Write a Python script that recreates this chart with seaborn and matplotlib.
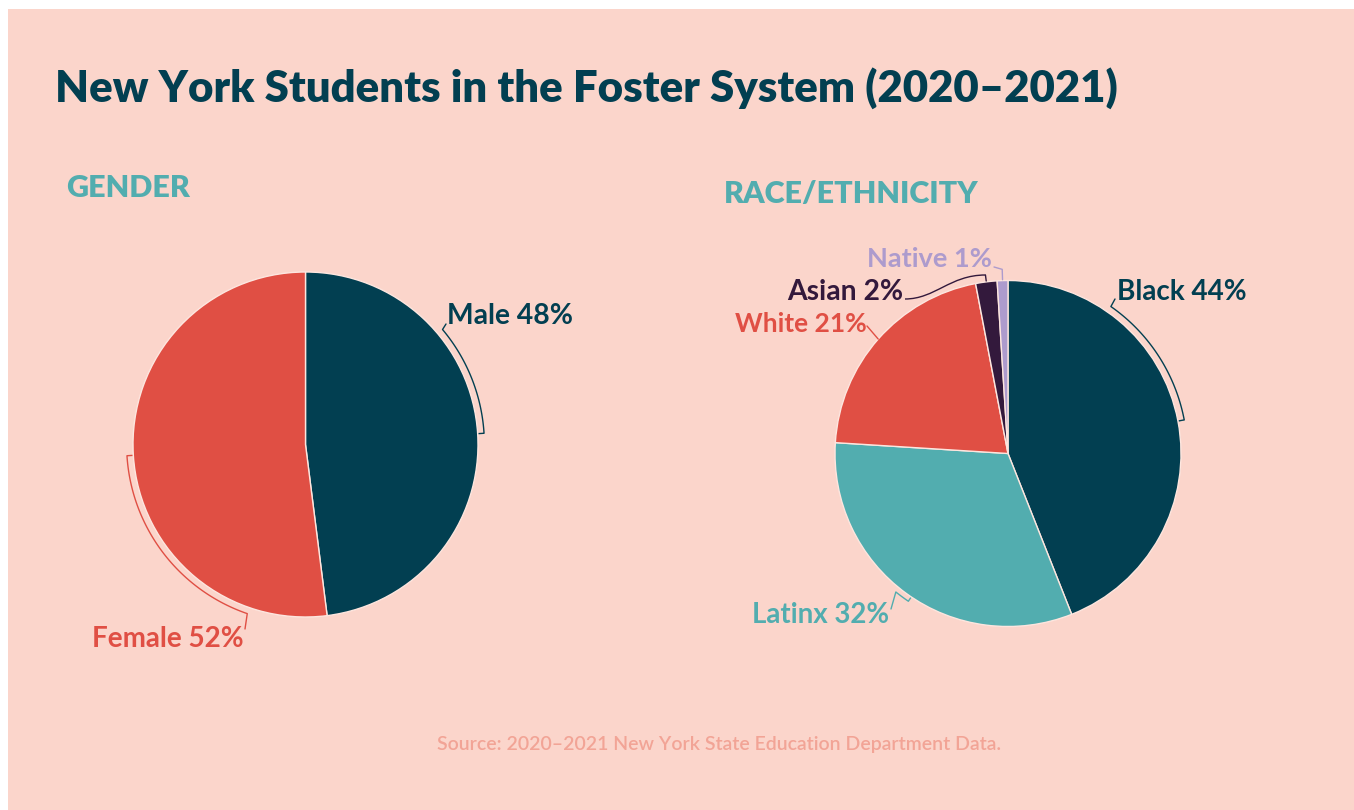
import numpy as np
import pandas as pd
import matplotlib
matplotlib.use("Agg")
import matplotlib.pyplot as plt
import seaborn as sns
from matplotlib.path import Path
from matplotlib.patches import PathPatch, Rectangle

# ---------------- data ----------------
title = "New York Students in the Foster System (2020–2021)"
source = "Source: 2020–2021 New York State Education Department Data."

gender_title = "GENDER"
gender_labels = ["Male", "Female"]
gender_values = [48, 52]

race_title = "RACE/ETHNICITY"
race_labels = ["Black", "Latinx", "White", "Asian", "Native"]
race_values = [44, 32, 21, 2, 1]

# ---------------- style ----------------
DARK = "#023f51"
RED = "#e04f44"
TEAL = "#52adaf"
PURPLE = "#33193c"
LAV = "#ad9bcd"
BG = "#fbd5cb"
SRC = "#f2a496"
EDGE = "#fde6df"

gender_colors = [DARK, RED]
race_colors = [DARK, TEAL, RED, PURPLE, LAV]

W, H = 1354, 810
sns.set_theme(style="white")
plt.rcParams["font.family"] = ["Lato", "DejaVu Sans"]

fig = plt.figure(figsize=(W / 100, H / 100), dpi=100, facecolor="white")
fig.patches.append(Rectangle((8 / W, 0), 1, 1 - 9 / H, transform=fig.transFigure,
                             facecolor=BG, edgecolor="none", zorder=-10))


def pie_axes(cx, cy, R):
    half = 1.25 * R
    ax = fig.add_axes([(cx - half) / W, (H - cy - half) / H, 2 * half / W, 2 * half / H])
    ax.set_facecolor("none")
    ax.set_zorder(5)
    return ax


def draw_pie(ax, values, colors):
    ax.pie(values, colors=colors, startangle=90, counterclock=False,
           wedgeprops=dict(edgecolor=EDGE, linewidth=1.0))
    total = float(sum(values))
    cum = np.concatenate([[0], np.cumsum(values)]) / total
    mids = 90 - 360 * (cum[:-1] + cum[1:]) / 2
    return mids


def polar(a, r):
    t = np.deg2rad(a)
    return r * np.cos(t), r * np.sin(t)


def bracket(ax, a_tick, a_end, end_pt, color, r_arc=1.037, r_in=1.005):
    x0, y0 = polar(a_tick, r_in)
    x1, y1 = polar(a_tick, r_arc)
    ax.plot([x0, x1], [y0, y1], color=color, lw=1.0, solid_capstyle="butt", clip_on=False)
    aa = np.linspace(a_tick, a_end, 80)
    xs, ys = polar(aa, r_arc)
    xs = list(xs) + [end_pt[0]]
    ys = list(ys) + [end_pt[1]]
    ax.plot(xs, ys, color=color, lw=1.0, clip_on=False)


# ---------------- gender pie ----------------
gcx, gcy, gR = 305.5, 444.5, 172.5
axg = pie_axes(gcx, gcy, gR)
gmid = draw_pie(axg, gender_values, gender_colors)


def gpx(x, y):
    return ((x - gcx) / gR, (gcy - y) / gR)


bracket(axg, gmid[0], 40, gpx(446, 324), gender_colors[0])
bracket(axg, gmid[1] + 360, 251, gpx(245, 629), gender_colors[1])

# ---------------- race pie ----------------
rcx, rcy, rR = 1008, 453.5, 173
axr = pie_axes(rcx, rcy, rR)
rmid = draw_pie(axr, race_values, race_colors)


def rpx(x, y):
    return ((x - rcx) / rR, (rcy - y) / rR)


bracket(axr, rmid[0], 55, rpx(1115, 299), race_colors[0])
bracket(axr, rmid[1] + 360 + 2, rmid[1] + 360 - 3, rpx(891, 609), race_colors[1], r_arc=1.03)
# White: straight leader from the edge
wx, wy = polar(rmid[2], 1.0)
ex, ey = rpx(867, 326)
axr.plot([wx, ex], [wy, ey], color=race_colors[2], lw=1.0, clip_on=False)
# Asian: tick + curved leader
ax0, ay0 = polar(rmid[3], 1.005)
ax1, ay1 = polar(rmid[3], 1.04)
axr.plot([ax0, ax1], [ay0, ay1], color=race_colors[3], lw=1.0, clip_on=False)
p_end = rpx(905, 299)
c1 = rpx(935, 299)
c2 = rpx(950, 275)
path = Path([(ax1, ay1), c2, c1, p_end], [Path.MOVETO, Path.CURVE4, Path.CURVE4, Path.CURVE4])
axr.add_patch(PathPatch(path, facecolor="none", edgecolor=race_colors[3], lw=1.0, clip_on=False))
# Native: tick + short leader
n0x, n0y = polar(rmid[4], 1.005)
n1x, n1y = polar(rmid[4], 1.065)
nex, ney = rpx(994, 267)
axr.plot([n0x, n1x, nex], [n0y, n1y, ney], color=race_colors[4], lw=1.0, clip_on=False)

# ---------------- texts ----------------
texts = []


def ftext(x, y, s, color, target_w, ha="left", weight="bold", size=20):
    t = fig.text(x / W, 1 - y / H, s, color=color, fontsize=size, fontweight=weight,
                 ha=ha, va="baseline")
    texts.append((t, target_w))
    return t


ftext(55, 102, title, DARK, 1063, weight="heavy", size=34)
ftext(66, 197, gender_title, TEAL, 124, weight="heavy", size=18)
ftext(724, 203, race_title, TEAL, 255, weight="heavy", size=18)
ftext(437, 750, source, SRC, 565, weight="semibold", size=12)

ftext(447, 324, f"{gender_labels[0]} {gender_values[0]}%", gender_colors[0], 126)
ftext(92, 647, f"{gender_labels[1]} {gender_values[1]}%", gender_colors[1], 152)

ftext(1117, 300, f"{race_labels[0]} {race_values[0]}%", race_colors[0], 130)
ftext(752, 623, f"{race_labels[1]} {race_values[1]}%", race_colors[1], 137)
ftext(735, 332, f"{race_labels[2]} {race_values[2]}%", race_colors[2], 132)
ftext(787, 300, f"{race_labels[3]} {race_values[3]}%", race_colors[3], 116)
ftext(867, 267, f"{race_labels[4]} {race_values[4]}%", race_colors[4], 125)

fig.canvas.draw()
renderer = fig.canvas.get_renderer()
for t, tw in texts:
    w = t.get_window_extent(renderer).width
    t.set_fontsize(t.get_fontsize() * tw / w)

fig.savefig("out.png", dpi=100, facecolor=fig.get_facecolor())
